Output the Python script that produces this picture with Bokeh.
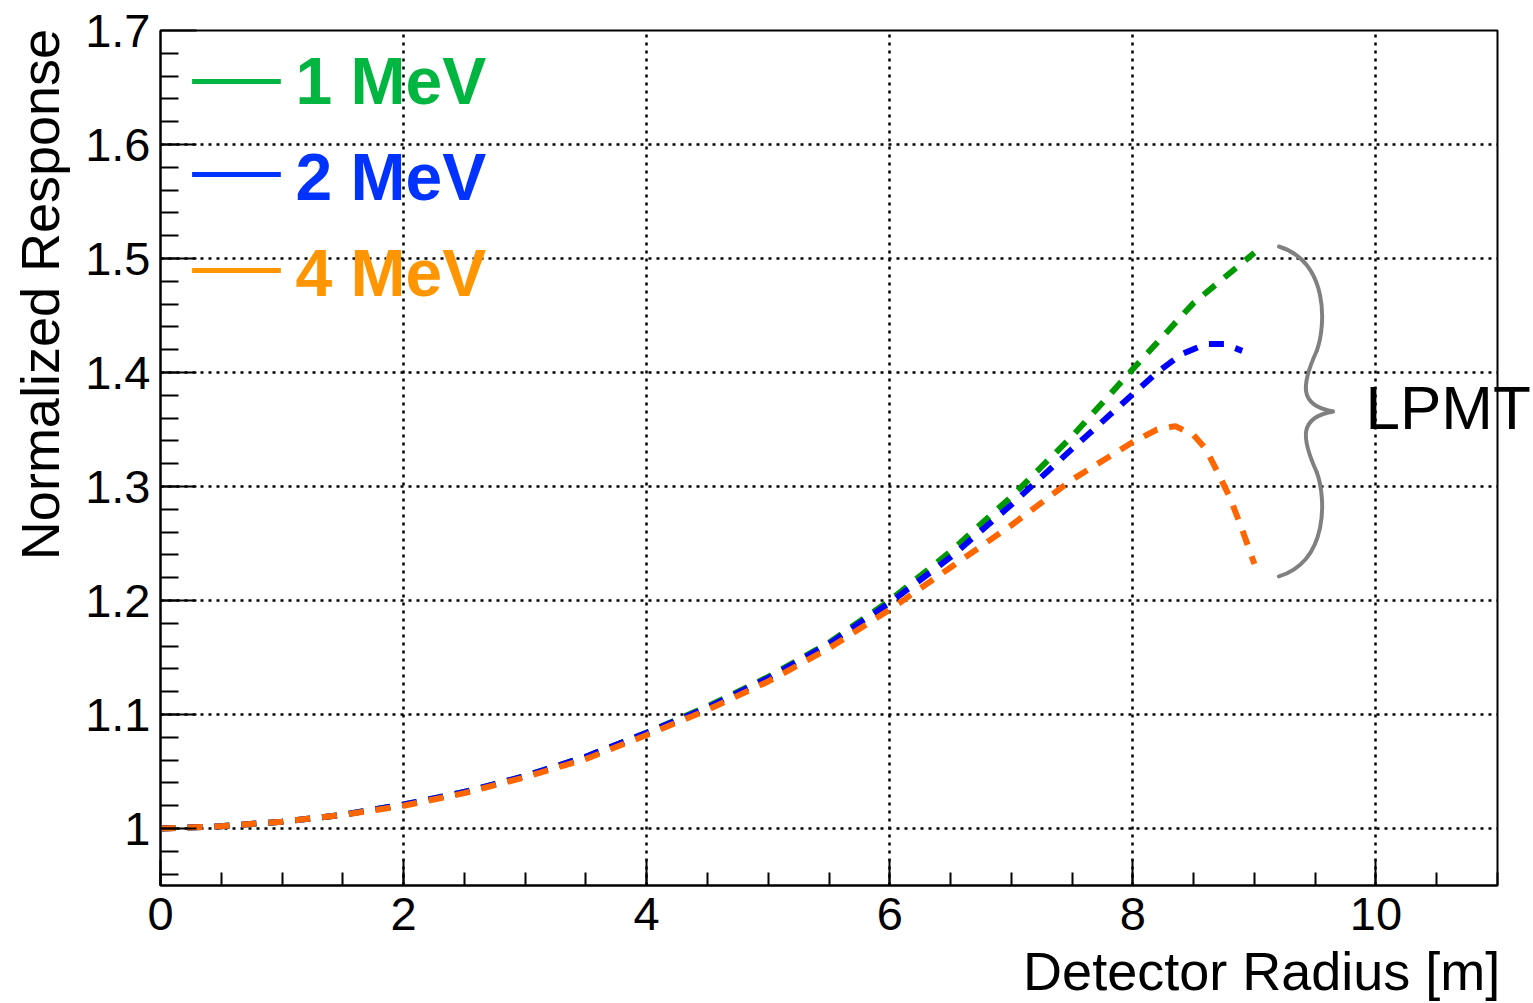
import numpy as np
from bokeh.plotting import figure
from bokeh.models import (Range1d, FixedTicker, CustomJSTickFormatter, Label, LinearAxis)
from bokeh.embed import file_html
from bokeh.resources import INLINE

# ---------------- data ----------------
x_1mev = [0, 0.5, 1, 1.5, 2, 2.5, 3, 3.5, 4, 4.5, 5, 5.5, 6, 6.5, 7, 7.5, 8, 8.5, 9.0]
y_1mev = [1.000, 1.002, 1.006, 1.012, 1.021, 1.032, 1.046, 1.063, 1.084, 1.107,
          1.133, 1.163, 1.200, 1.243, 1.291, 1.344, 1.403, 1.461, 1.505]

x_2mev = [0, 0.5, 1, 1.5, 2, 2.5, 3, 3.5, 4, 4.5, 5, 5.5, 6, 6.5, 7, 7.5, 8, 8.2, 8.4, 8.6, 8.75, 8.9]
y_2mev = [1.000, 1.002, 1.006, 1.012, 1.021, 1.032, 1.046, 1.063, 1.084, 1.106,
          1.132, 1.162, 1.198, 1.238, 1.284, 1.333, 1.381, 1.400, 1.416, 1.425, 1.425, 1.419]

x_4mev = [0, 0.5, 1, 1.5, 2, 2.5, 3, 3.5, 4, 4.5, 5, 5.5, 6, 6.5, 7, 7.5, 8, 8.2, 8.35,
          8.5, 8.6, 8.7, 8.8, 8.9, 9.0]
y_4mev = [1.000, 1.002, 1.006, 1.012, 1.020, 1.031, 1.045, 1.061, 1.082, 1.104,
          1.129, 1.158, 1.192, 1.229, 1.266, 1.306, 1.339, 1.350, 1.353,
          1.345, 1.333, 1.312, 1.290, 1.262, 1.232]

legend_labels = ["1 MeV", "2 MeV", "4 MeV"]
x_ticks = [0, 2, 4, 6, 8, 10]
y_ticks = [1.0, 1.1, 1.2, 1.3, 1.4, 1.5, 1.6, 1.7]
x_title = "Detector Radius [m]"
y_title = "Normalized Response"
group_label = "LPMT"

# ---------------- figure ----------------
W, H = 1533, 1003
p = figure(width=W, height=H, output_backend="svg", toolbar_location=None,
           x_range=Range1d(0, 11), y_range=Range1d(0.95, 1.7))
p.min_border_left = 160
p.min_border_right = 36
p.min_border_top = 30
p.min_border_bottom = 117
p.background_fill_color = "white"
p.border_fill_color = "white"
p.outline_line_color = "black"
p.outline_line_width = 2

FONT = "Liberation Sans"

xa = p.xaxis[0]
xa.ticker = FixedTicker(ticks=x_ticks, minor_ticks=list(np.arange(0, 11.01, 0.5)))
xa.formatter = CustomJSTickFormatter(code="return (Math.round(tick*10)/10).toString();")
xa.major_tick_in = 26
xa.major_tick_out = 0
xa.minor_tick_in = 13
xa.minor_tick_out = 0
xa.major_tick_line_width = 2
xa.minor_tick_line_width = 2
xa.axis_line_width = 2
xa.major_label_text_font = FONT
xa.major_label_text_font_size = "47px"
xa.major_label_text_color = "black"
xa.major_label_standoff = 12

ya = p.yaxis[0]
ya.ticker = FixedTicker(ticks=y_ticks, minor_ticks=list(np.arange(0.94, 1.701, 0.02)))
ya.formatter = CustomJSTickFormatter(code="return (Math.round(tick*10)/10).toString();")
ya.major_tick_in = 36
ya.major_tick_out = 0
ya.minor_tick_in = 18
ya.minor_tick_out = 0
ya.major_tick_line_width = 2
ya.minor_tick_line_width = 2
ya.axis_line_width = 2
ya.major_label_text_font = FONT
ya.major_label_text_font_size = "47px"
ya.major_label_text_color = "black"
ya.major_label_standoff = 10

for g in (p.xgrid[0], p.ygrid[0]):
    g.grid_line_color = "black"
    g.grid_line_dash = "3 5"
    g.grid_line_width = 2.5
    g.grid_line_alpha = 1.0
p.xgrid[0].ticker = FixedTicker(ticks=x_ticks)
p.ygrid[0].ticker = FixedTicker(ticks=y_ticks)

# ---------------- curves ----------------
curve_colors = ["#009a00", "#0000ff", "#ff6600"]
legend_colors = ["#00b540", "#0033ff", "#ff9500"]
series = [(x_1mev, y_1mev), (x_2mev, y_2mev), (x_4mev, y_4mev)]
for (xs, ys), c in zip(series, curve_colors):
    p.line(xs, ys, line_color=c, line_width=6, line_dash="15 12")

# ---------------- legend (ROOT style) ----------------
leg_line_x0, leg_line_x1 = 0.26, 0.99
leg_line_y = [1.6553, 1.5737, 1.4895]
leg_text_x = 1.11
leg_text_y = [1.6561, 1.5711, 1.4873]
for lab, c, ly, ty in zip(legend_labels, legend_colors, leg_line_y, leg_text_y):
    p.segment(x0=[leg_line_x0], y0=[ly], x1=[leg_line_x1], y1=[ly],
              line_color=c, line_width=5)
    p.add_layout(Label(x=leg_text_x, y=ty, text=lab, text_font=FONT,
                       text_font_size="66px", text_font_style="bold",
                       text_color=c, text_baseline="alphabetic", text_align="left"))

# ---------------- LPMT brace ----------------
brace_x0 = [9.202, 9.514, 9.646, 9.514]
brace_y0 = [1.5105, 1.4193, 1.3658, 1.3123]
brace_cx0 = [9.613, 9.383, 9.366, 9.588]
brace_cy0 = [1.4965, 1.3886, 1.3605, 1.2904]
brace_cx1 = [9.588, 9.366, 9.383, 9.613]
brace_cy1 = [1.4412, 1.3711, 1.3430, 1.2351]
brace_x1 = [9.514, 9.646, 9.514, 9.202]
brace_y1 = [1.4193, 1.3658, 1.3123, 1.2211]
p.bezier(x0=brace_x0, y0=brace_y0, x1=brace_x1, y1=brace_y1,
         cx0=brace_cx0, cy0=brace_cy0, cx1=brace_cx1, cy1=brace_cy1,
         line_color="#808080", line_width=4, line_cap="round")

# ---------------- texts placed outside / across the frame ----------------
# Annotations are clipped to the frame, so these titles are drawn as the single
# tick label of an otherwise invisible extra axis (placed at a chosen tick).
def text_axis(tick, label, size, standoff, orientation="horizontal"):
    ax = LinearAxis(ticker=FixedTicker(ticks=[tick], minor_ticks=[]),
                    formatter=CustomJSTickFormatter(args=dict(lab=label),
                                                    code="return lab;"),
                    axis_line_alpha=0, major_tick_line_alpha=0,
                    minor_tick_line_alpha=0, major_tick_in=0, major_tick_out=0,
                    minor_tick_in=0, minor_tick_out=0,
                    major_label_standoff=standoff,
                    major_label_orientation=orientation,
                    major_label_text_font=FONT,
                    major_label_text_font_size=size,
                    major_label_text_color="black")
    return ax

x_title_pos = 9.06      # centre of the x-axis title (data units)
y_title_pos = 1.4684    # centre of the y-axis title (data units)
lpmt_pos = 1.3697       # vertical position of the LPMT tag (data units)

p.add_layout(text_axis(x_title_pos, x_title, "54px", 8), "below")
p.add_layout(text_axis(y_title_pos, y_title, "54px", 12, "vertical"), "left")
p.add_layout(text_axis(lpmt_pos, group_label, "62px", -132), "right")

open("out.html", "w").write(file_html(p, INLINE))
